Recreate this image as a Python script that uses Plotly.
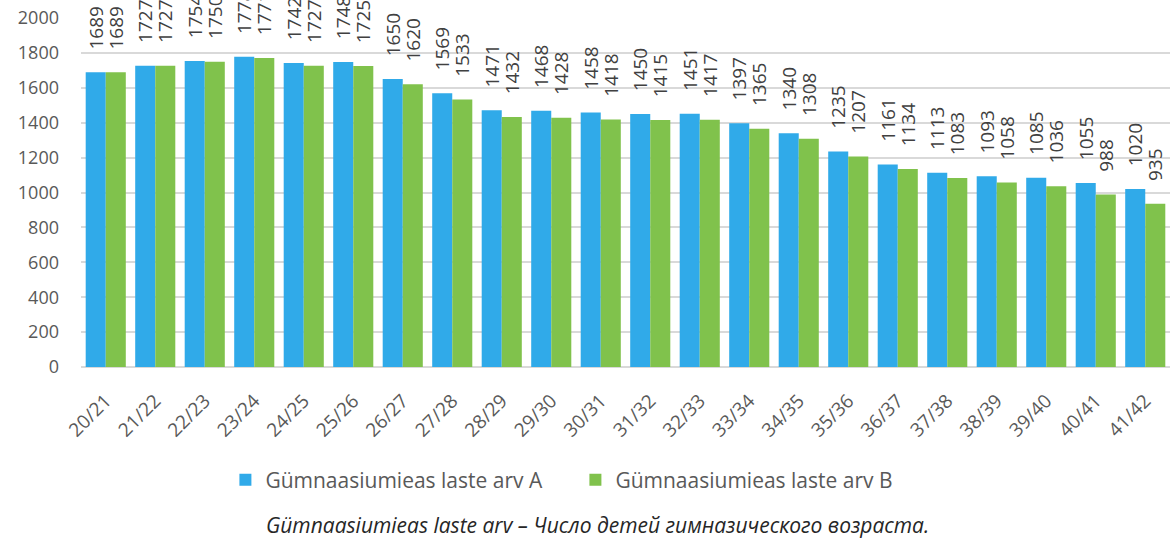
import plotly.graph_objects as go

years = ['20/21', '21/22', '22/23', '23/24', '24/25', '25/26', '26/27', '27/28',
         '28/29', '29/30', '30/31', '31/32', '32/33', '33/34', '34/35', '35/36',
         '36/37', '37/38', '38/39', '39/40', '40/41', '41/42']
arv_a = [1689, 1727, 1754, 1778, 1742, 1748, 1650, 1569, 1471, 1468, 1458,
         1450, 1451, 1397, 1340, 1235, 1161, 1113, 1093, 1085, 1055, 1020]
arv_b = [1689, 1727, 1750, 1771, 1727, 1725, 1620, 1533, 1432, 1428, 1418,
         1415, 1417, 1365, 1308, 1207, 1134, 1083, 1058, 1036, 988, 935]
y_ticks = [0, 200, 400, 600, 800, 1000, 1200, 1400, 1600, 1800, 2000]

font = 'Open Sans'
grey = '#595959'
label_font = dict(size=19, color='#404040', family=font)
# leading spaces leave the gap between bar top and rotated label
label_tpl = '\u00a0\u00a0\u00a0\u00a0%{y}'

fig = go.Figure()
fig.add_trace(go.Bar(
    x=years, y=arv_a, name='Gümnaasiumieas laste arv A',
    marker=dict(color='#30aae9', line=dict(width=0)),
    texttemplate=label_tpl, textposition='outside', textangle=-90,
    textfont=label_font, cliponaxis=False, constraintext='none'))
fig.add_trace(go.Bar(
    x=years, y=arv_b, name='Gümnaasiumieas laste arv B',
    marker=dict(color='#80c24c', line=dict(width=0)),
    texttemplate=label_tpl, textposition='outside', textangle=-90,
    textfont=label_font, cliponaxis=False, constraintext='none'))

# plot area: left 81px, top 18px, bottom 367px
fig.update_layout(
    width=1170, height=544,
    barmode='group', bargap=0.19, bargroupgap=0,
    plot_bgcolor='white', paper_bgcolor='white',
    font=dict(family=font, color=grey),
    margin=dict(l=81, r=0, t=18, b=177),
    uniformtext=dict(minsize=19, mode='show'),
    showlegend=True,
    legend=dict(orientation='h', x=0.454, xanchor='center', y=-0.324, yanchor='middle',
                font=dict(size=21, color=grey), traceorder='normal',
                entrywidth=305, entrywidthmode='pixels', itemwidth=30),
    xaxis=dict(tickangle=-45, tickfont=dict(size=19, color=grey),
               range=[-0.5, 21.5], showline=False, ticks='', automargin=False,
               ticklabelstandoff=18),
    yaxis=dict(range=[0, 2000], tickvals=y_ticks, tickfont=dict(size=18, color=grey),
               gridcolor='#d9d9d9', gridwidth=1.5, zeroline=True,
               zerolinecolor='#d9d9d9', zerolinewidth=1.5, ticks='',
               ticklabelstandoff=21, automargin=False),
    annotations=[dict(
        text='<i>Gümnaasiumieas laste arv – Число детей гимназического возраста.</i>',
        x=0.474, xref='paper', xanchor='center',
        y=-0.453, yref='paper', yanchor='middle', showarrow=False,
        font=dict(size=21, color='#262626', family=font))],
)

# drop the page's default 8px body margin so the figure sits at the corner
fig.write_html("out.html", config={'displayModeBar': False},
               post_script="document.body.style.margin='0';document.body.style.overflow='hidden';")
